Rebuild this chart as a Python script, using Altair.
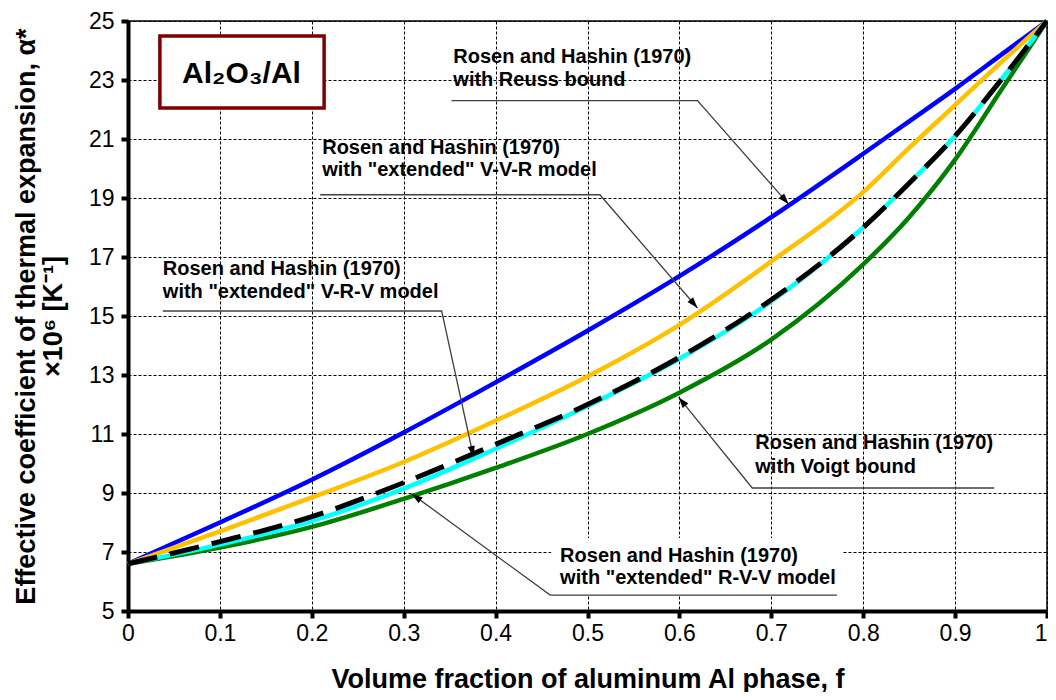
import math
import altair as alt
import pandas as pd

# ---------------- data ----------------
f_vals = [0.0, 0.1, 0.2, 0.3, 0.4, 0.5, 0.6, 0.7, 0.8, 0.85, 0.9, 0.95, 1.0]
reuss = [6.6, 8.0, 9.45, 11.05, 12.75, 14.5, 16.35, 18.35, 20.5, 21.6, 22.7, 23.85, 25.0]
vvr = [6.6, 7.7, 8.85, 10.05, 11.45, 12.95, 14.7, 16.85, 19.2, 20.7, 22.15, 23.6, 25.0]
vrv = [6.6, 7.35, 8.2, 9.35, 10.65, 12.0, 13.6, 15.55, 18.0, 19.5, 21.1, 23.0, 25.0]
rvv = [6.6, 7.25, 8.05, 9.15, 10.5, 11.95, 13.55, 15.5, 18.0, 19.5, 21.1, 23.0, 25.0]
voigt = [6.6, 7.15, 7.85, 8.8, 9.85, 11.0, 12.4, 14.2, 16.75, 18.35, 20.3, 22.65, 25.0]

x_ticks = [0, 0.1, 0.2, 0.3, 0.4, 0.5, 0.6, 0.7, 0.8, 0.9, 1.0]
y_ticks = [5, 7, 9, 11, 13, 15, 17, 19, 21, 23, 25]

x_title = "Volume fraction of aluminum Al phase, f"
y_title = ["Effective coefficient of thermal expansion, α*", "×10⁶ [K⁻¹]"]

box_text = "Al₂O₃/Al"
box_f = [0.0347, 0.2134]
box_a = [22.05, 24.49]
box_center = [0.1235, 23.2]

ann_line1 = ["Rosen and Hashin (1970)"] * 5
ann_line2 = ["with Reuss bound", 'with "extended" V-V-R model',
             'with "extended" V-R-V model', 'with "extended" R-V-V model',
             "with Voigt bound"]
ann_f = [0.354, 0.2113, 0.0379, 0.4702, 0.6826]
ann_a1 = [23.79, 20.69, 16.59, 6.86, 10.69]
ann_a2 = [23.0, 19.95, 15.81, 6.12, 9.88]
lead_far_f = [0.352, 0.2091, 0.0379, 0.7714, 0.9426]
lead_elbow_f = [0.6197, 0.5135, 0.3413, 0.4594, 0.6793]
lead_a = [22.30, 19.11, 15.17, 5.54, 9.17]
tip_f = [0.7189, 0.6197, 0.376, 0.3088, 0.5991]
tip_a = [18.79, 15.27, 10.22, 8.97, 12.25]

whitebox_f = [0.4605, 0.7768]
whitebox_a = [5.51, 7.475]

# ---------------- layout ----------------
W, H = 919, 590
X_DOM = [0, 1]
Y_DOM = [5, 25]
FONT = "Liberation Sans"

xs = alt.Scale(domain=X_DOM, nice=False, zero=False)
ys = alt.Scale(domain=Y_DOM, nice=False, zero=False)

x_axis = alt.Axis(values=x_ticks, format="~g", grid=True, gridDash=[3, 2], gridColor="black",
                  gridWidth=1, domainColor="black", domainWidth=4, tickColor="black",
                  tickWidth=4, tickSize=7, labelFont=FONT, labelFontSize=23, labelColor="black",
                  labelPadding=4, labelFlush=False, labelOverlap=False,
                  labelAlign={"expr": "datum.value == 1 ? 'right' : 'center'"},
                  title=x_title, titleFont=FONT, titleFontSize=27, titleFontWeight="bold",
                  titleColor="black", titleBaseline="alphabetic", titleY=76)
y_axis = alt.Axis(values=y_ticks, grid=True, gridDash=[3, 2], gridColor="black",
                  gridWidth=1, domainColor="black", domainWidth=4, tickColor="black",
                  tickWidth=4, tickSize=7, labelFont=FONT, labelFontSize=23, labelColor="black",
                  labelPadding=7, labelFlush=False, labelOverlap=False,
                  title=y_title, titleFont=FONT, titleFontSize=27, titleFontWeight="bold",
                  titleColor="black", titleAngle=270, titleAlign="center",
                  titleBaseline="alphabetic", titleLineHeight=27, titleX=-94, titleY=295)


def X(field="f"):
    return alt.X(f"{field}:Q", scale=xs, axis=x_axis)


def Y(field="a"):
    return alt.Y(f"{field}:Q", scale=ys, axis=y_axis)


def curve_df(vals):
    return pd.DataFrame({"f": f_vals, "a": vals})


def curve(vals, color, width, dash=None):
    kw = dict(color=color, strokeWidth=width, interpolate="monotone")
    if dash:
        kw["strokeDash"] = dash
    return alt.Chart(curve_df(vals)).mark_line(**kw).encode(x=X(), y=Y())


c_reuss = curve(reuss, "#0000FF", 4.5)
c_vvr = curve(vvr, "#FFC000", 4.5)
c_voigt = curve(voigt, "#008000", 4.5)
c_rvv = curve(rvv, "#00FFFF", 4.5)
c_vrv = curve(vrv, "#000000", 5, dash=[30, 13])

# white box behind the R-V-V label
wb = alt.Chart(pd.DataFrame({"f": [whitebox_f[0]], "f2": [whitebox_f[1]],
                             "a": [whitebox_a[0]], "a2": [whitebox_a[1]]})).mark_rect(
    fill="white").encode(x=X(), x2="f2:Q", y=Y(), y2="a2:Q")

# title box
tb = alt.Chart(pd.DataFrame({"f": [box_f[0]], "f2": [box_f[1]],
                             "a": [box_a[0]], "a2": [box_a[1]]})).mark_rect(
    fill="white", stroke="#7F0000", strokeWidth=3.5).encode(x=X(), x2="f2:Q", y=Y(), y2="a2:Q")
tb_text = alt.Chart(pd.DataFrame({"f": [box_center[0]], "a": [box_center[1]], "t": [box_text]})).mark_text(
    font=FONT, fontSize=30, fontWeight="bold", color="black", align="center", baseline="middle"
).encode(x=X(), y=Y(), text="t:N")

# leader lines
rows = []
for i in range(5):
    rows.append({"id": i, "o": 0, "f": lead_far_f[i], "a": lead_a[i]})
    rows.append({"id": i, "o": 1, "f": lead_elbow_f[i], "a": lead_a[i]})
    rows.append({"id": i, "o": 2, "f": tip_f[i], "a": tip_a[i]})
leaders = alt.Chart(pd.DataFrame(rows)).mark_line(color="#404040", strokeWidth=1.3).encode(
    x=X(), y=Y(), detail="id:N", order="o:Q")

# arrowheads (angle from pixel direction)
ang = []
for i in range(5):
    dx = (tip_f[i] - lead_elbow_f[i]) / (X_DOM[1] - X_DOM[0]) * W
    dy = -(tip_a[i] - lead_a[i]) / (Y_DOM[1] - Y_DOM[0]) * H
    ang.append(math.degrees(math.atan2(dx, -dy)) % 360)
heads = alt.Chart(pd.DataFrame({"f": tip_f, "a": tip_a, "ang": ang})).mark_point(
    shape="M0,0L-0.33,1L0.33,1Z", filled=True, color="black", opacity=1, size=484, strokeWidth=0
).encode(x=X(), y=Y(), angle=alt.Angle("ang:Q", scale=None))

# annotation text
trows = []
for i in range(5):
    trows.append({"f": ann_f[i], "a": ann_a1[i], "t": ann_line1[i]})
    trows.append({"f": ann_f[i], "a": ann_a2[i], "t": ann_line2[i]})
texts = alt.Chart(pd.DataFrame(trows)).mark_text(
    font=FONT, fontSize=20, fontWeight="bold", color="black", align="left", baseline="middle"
).encode(x=X(), y=Y(), text="t:N")

chart = alt.layer(
    wb, c_reuss, c_vvr, c_voigt, c_rvv, c_vrv, tb, tb_text, leaders, heads, texts
).properties(
    width=W, height=H,
    autosize=alt.AutoSizeParams(type="none"),
    padding={"left": 120, "top": 13, "right": 1, "bottom": 81},
    background="white",
).configure_view(stroke="black", strokeWidth=1.5)

chart.save("out.html", embed_options={"renderer": "svg", "actions": False})
